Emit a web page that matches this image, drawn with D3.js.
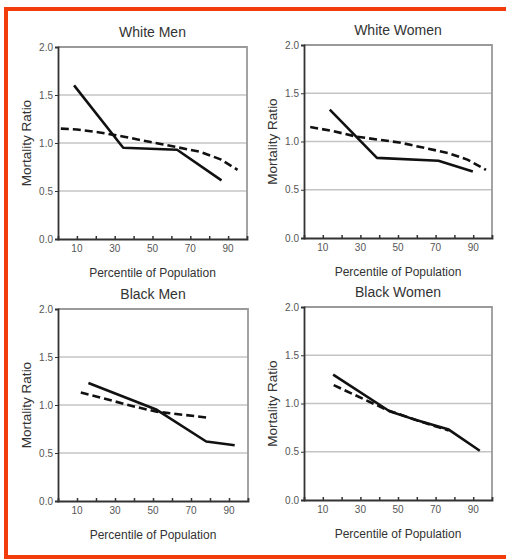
<!DOCTYPE html>
<html>
<head>
<meta charset="utf-8">
<script src="https://cdn.jsdelivr.net/npm/d3@7"></script>
<style>
  body { margin: 0; background: #fff; }
  svg text { font-family: Arial, "Liberation Sans", sans-serif; fill: #333; }
</style>
</head>
<body>
<svg id="chart" width="506" height="559"></svg>
<script>
// panel titles, in reading order
var titles = ["White Men", "White Women", "Black Men", "Black Women"];

// x tick labels and y tick labels
var xTickLabels = [10, 30, 50, 70, 90];
var xMinorTicks = [10, 20, 30, 40, 50, 60, 70, 80, 90];
var yTickLabels = [0, 0.5, 1.0, 1.5, 2.0];

// solid line (percentile, mortality ratio) per panel
var wmSolidX = [8.5, 34.5, 63, 86.5];
var wmSolidY = [1.60, 0.95, 0.93, 0.61];
var wwSolidX = [13.7, 38.8, 71.5, 89.8];
var wwSolidY = [1.33, 0.83, 0.80, 0.69];
var bmSolidX = [16, 52, 78, 93];
var bmSolidY = [1.23, 0.95, 0.62, 0.58];
var bwSolidX = [15.5, 45.5, 61, 77, 93.5];
var bwSolidY = [1.30, 0.92, 0.82, 0.73, 0.51];

// dashed line per panel
var wmDashX = [1.5, 10, 22, 35, 49, 62, 75, 86, 95];
var wmDashY = [1.15, 1.14, 1.11, 1.065, 1.01, 0.96, 0.91, 0.83, 0.72];
var wwDashX = [3.3, 15, 28, 50.7, 65, 76.8, 87.2, 96.8];
var wwDashY = [1.15, 1.11, 1.05, 0.99, 0.93, 0.88, 0.81, 0.705];
var bmDashX = [12, 41, 52, 78];
var bmDashY = [1.13, 0.98, 0.93, 0.87];
var bwDashX = [15.8, 44.5, 61, 77];
var bwDashY = [1.19, 0.93, 0.82, 0.72];

var solidX = [wmSolidX, wwSolidX, bmSolidX, bwSolidX];
var solidY = [wmSolidY, wwSolidY, bmSolidY, bwSolidY];
var dashX = [wmDashX, wwDashX, bmDashX, bwDashX];
var dashY = [wmDashY, wwDashY, bmDashY, bwDashY];

// where each plot box sits
var boxes = [
    {left: 58, top: 47, w: 189, h: 192},
    {left: 304, top: 45, w: 188, h: 193},
    {left: 58, top: 309, w: 190, h: 192},
    {left: 304, top: 307, w: 188, h: 193}
];

var svg = d3.select("#chart");

// orange frame (left, top, bottom)
var orange = "#f23c0c";
svg.append("rect").attr("x", 4).attr("y", 7).attr("width", 502).attr("height", 4).style("fill", orange);
svg.append("rect").attr("x", 4).attr("y", 7).attr("width", 4).attr("height", 552).style("fill", orange);
svg.append("rect").attr("x", 4).attr("y", 555).attr("width", 502).attr("height", 4).style("fill", orange);

function zip(xs, ys) {
    return xs.map(function(d, i) { return [d, ys[i]]; });
}

titles.forEach(function(title, i) {
    var b = boxes[i];
    var g = svg.append("g").attr("transform", "translate(" + b.left + "," + b.top + ")");

    var x = d3.scaleLinear().domain([0, 100]).range([0, b.w]);
    var y = d3.scaleLinear().domain([0, 2]).range([b.h, 0]);

    // gridlines
    g.selectAll(".grid")
        .data([0.5, 1.0, 1.5])
        .enter().append("line")
        .attr("x1", 0).attr("x2", b.w)
        .attr("y1", function(d) { return y(d); })
        .attr("y2", function(d) { return y(d); })
        .style("stroke", "#c4c4c4")
        .style("stroke-width", 1.5);

    // box: top and right lighter
    g.append("path")
        .attr("d", "M0,0H" + b.w + "V" + b.h)
        .style("fill", "none")
        .style("stroke", "#9a9a9a")
        .style("stroke-width", 1.8);

    // y axis
    var yAxis = d3.axisLeft(y)
        .tickValues(yTickLabels)
        .tickFormat(d3.format(".1f"))
        .tickSize(3)
        .tickPadding(2);
    var ya = g.append("g").call(yAxis);
    ya.select(".domain").style("stroke", "#333").style("stroke-width", 1.8);
    ya.selectAll(".tick line").style("stroke", "#333");
    ya.selectAll("text").style("font-size", "10px").style("fill", "#555");

    // x axis: minor ticks pointing inward, labels on majors
    var xa = g.append("g").attr("transform", "translate(0," + b.h + ")");
    xa.call(d3.axisBottom(x).tickValues(xMinorTicks).tickSize(-3).tickFormat(""));
    xa.select(".domain").style("stroke", "#333").style("stroke-width", 1.8);
    xa.selectAll(".tick line").style("stroke", "#333").style("stroke-width", 1.5);
    xa.selectAll(".lab")
        .data(xTickLabels)
        .enter().append("text")
        .attr("class", "lab")
        .attr("x", function(d) { return x(d); })
        .attr("y", 13)
        .attr("text-anchor", "middle")
        .style("font-size", "10px")
        .style("fill", "#555")
        .text(function(d) { return d; });

    // title and axis titles
    g.append("text")
        .attr("x", b.w / 2).attr("y", -10)
        .attr("text-anchor", "middle")
        .style("font-size", "14px")
        .text(title);
    g.append("text")
        .attr("x", b.w / 2).attr("y", b.h + 38)
        .attr("text-anchor", "middle")
        .style("font-size", "12px")
        .text("Percentile of Population");
    g.append("text")
        .attr("transform", "translate(-27," + (b.h / 2) + ") rotate(-90)")
        .attr("text-anchor", "middle")
        .style("font-size", "13.5px")
        .text("Mortality Ratio");

    var line = d3.line()
        .x(function(d) { return x(d[0]); })
        .y(function(d) { return y(d[1]); });

    g.append("path")
        .datum(zip(dashX[i], dashY[i]))
        .attr("d", line)
        .style("fill", "none")
        .style("stroke", "#111")
        .style("stroke-width", 2.6)
        .style("stroke-dasharray", "8,4");

    g.append("path")
        .datum(zip(solidX[i], solidY[i]))
        .attr("d", line)
        .style("fill", "none")
        .style("stroke", "#111")
        .style("stroke-width", 2.6)
        .style("stroke-linejoin", "round");
});
</script>
</body>
</html>
